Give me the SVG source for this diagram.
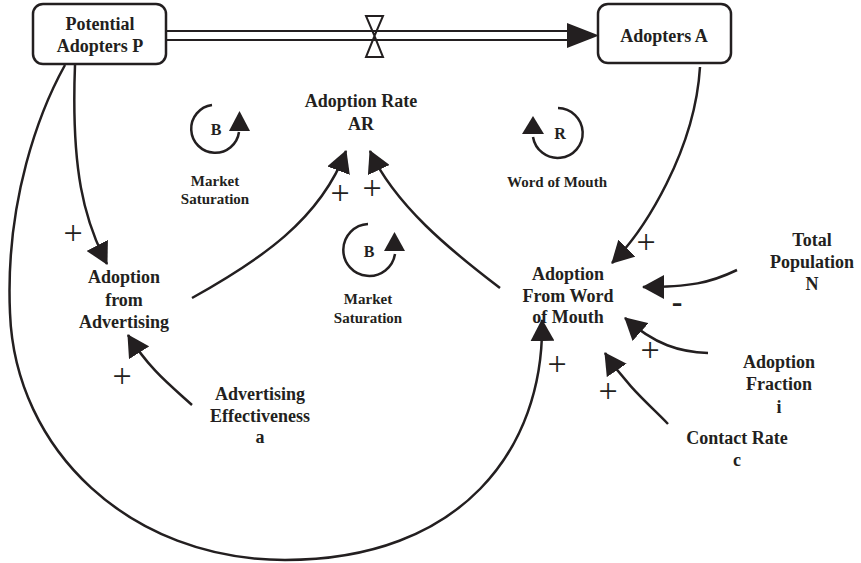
<svg xmlns="http://www.w3.org/2000/svg" width="861" height="563" viewBox="0 0 861 563">
  <defs>
    <style>
      .lbl { font-family: "Liberation Serif", "Times New Roman", serif; font-weight: bold; font-size: 18px; fill: #231f20; text-anchor: middle; }
      .small { font-size: 15px; }
      .loopTxt { font-size: 16px; }
      .sign { font-family: "Liberation Serif", "Times New Roman", serif; font-weight: normal; font-size: 34px; fill: #231f20; text-anchor: middle; }
      .minus { font-weight: bold; font-size: 32px; }
      .stock { fill: #ffffff; stroke: #231f20; stroke-width: 2.5; }
      .link { fill: none; stroke: #231f20; stroke-width: 2.5; }
      .pipe { fill: none; stroke: #231f20; stroke-width: 2; }
      .loop { fill: none; stroke: #231f20; stroke-width: 2.5; }
      .head { fill: #231f20; }
    </style>
    <marker id="arrow" markerUnits="userSpaceOnUse" viewBox="0 0 22 24" markerWidth="22" markerHeight="24" refX="21" refY="12" orient="auto">
      <path d="M0,0 L22,12 L0,24 Z" fill="#231f20"/>
    </marker>
  </defs>

  <!-- stocks -->
  <g id="potential-adopters">
    <rect class="stock" x="33" y="4" width="133" height="60" rx="10"/>
    <text class="lbl" x="100" y="30">Potential</text>
    <text class="lbl" x="100" y="52">Adopters P</text>
  </g>
  <g id="adopters">
    <rect class="stock" x="598" y="4" width="133" height="59" rx="10"/>
    <text class="lbl" x="664" y="42">Adopters A</text>
  </g>

  <!-- flow pipe with valve -->
  <g id="adoption-flow">
    <line class="pipe" x1="166" y1="31" x2="572" y2="31"/>
    <line class="pipe" x1="166" y1="40" x2="572" y2="40"/>
    <polygon class="head" points="567,23 567,48 599,35.5"/>
    <path class="pipe" d="M366,16 L383,16 L374.5,36 Z M366,57 L383,57 L374.5,36 Z"/>
  </g>

  <!-- auxiliaries -->
  <g id="adoption-rate">
    <text class="lbl" x="361" y="107">Adoption Rate</text>
    <text class="lbl" x="361" y="130">AR</text>
  </g>
  <g id="adoption-advertising">
    <text class="lbl" x="124" y="283">Adoption</text>
    <text class="lbl" x="124" y="306">from</text>
    <text class="lbl" x="124" y="328">Advertising</text>
  </g>
  <g id="adoption-wom">
    <text class="lbl" x="568" y="280">Adoption</text>
    <text class="lbl" x="568" y="302">From Word</text>
    <text class="lbl" x="568" y="323">of Mouth</text>
  </g>
  <g id="total-population">
    <text class="lbl" x="812" y="246">Total</text>
    <text class="lbl" x="812" y="268">Population</text>
    <text class="lbl" x="812" y="290">N</text>
  </g>
  <g id="adoption-fraction">
    <text class="lbl" x="779" y="368">Adoption</text>
    <text class="lbl" x="779" y="390">Fraction</text>
    <text class="lbl" x="779" y="413">i</text>
  </g>
  <g id="contact-rate">
    <text class="lbl" x="737" y="444">Contact Rate</text>
    <text class="lbl" x="737" y="466">c</text>
  </g>
  <g id="advertising-effectiveness">
    <text class="lbl" x="260" y="400">Advertising</text>
    <text class="lbl" x="260" y="422">Effectiveness</text>
    <text class="lbl" x="260" y="443">a</text>
  </g>

  <!-- feedback loop markers -->
  <g id="loop-saturation-1">
    <path class="loop" d="M212,105 A24,24 0 1 0 239,132"/>
    <polygon class="head" points="229,131 250,131 239.5,111"/>
    <text class="lbl loopTxt" x="216" y="135">B</text>
    <text class="lbl small" x="215" y="186">Market</text>
    <text class="lbl small" x="215" y="204">Saturation</text>
  </g>
  <g id="loop-saturation-2">
    <path class="loop" d="M368,224 A26,26 0 1 0 395,254"/>
    <polygon class="head" points="384,251 405,251 394.5,232"/>
    <text class="lbl loopTxt" x="369" y="257">B</text>
    <text class="lbl small" x="368" y="304">Market</text>
    <text class="lbl small" x="368" y="323">Saturation</text>
  </g>
  <g id="loop-word-of-mouth">
    <path class="loop" d="M558,108 A25,25 0 1 1 533,137"/>
    <polygon class="head" points="522,134 544,134 533,116"/>
    <text class="lbl loopTxt" x="560" y="139">R</text>
    <text class="lbl small" x="557" y="187">Word of Mouth</text>
  </g>

  <!-- causal links -->
  <g id="connectors">
    <path class="link" marker-end="url(#arrow)" d="M75,65 C71,170 84,220 107,264"/>
    <path class="link" marker-end="url(#arrow)" d="M65,65 C40,110 5,200 10,313 C15,450 130,560 285,560 C460,560 545,450 542,320"/>
    <path class="link" marker-end="url(#arrow)" d="M192,298 C260,260 320,220 346,151"/>
    <path class="link" marker-end="url(#arrow)" d="M500,288 C450,250 395,205 370,151"/>
    <path class="link" marker-end="url(#arrow)" d="M700,67 C695,150 645,230 612,263"/>
    <path class="link" marker-end="url(#arrow)" d="M737,270 C710,283 690,287 643,287"/>
    <path class="link" marker-end="url(#arrow)" d="M708,353 C680,352 655,345 625,318"/>
    <path class="link" marker-end="url(#arrow)" d="M668,424 C650,405 630,390 605,353"/>
    <path class="link" marker-end="url(#arrow)" d="M192,405 C170,385 150,370 128,335"/>
  </g>

  <!-- link polarities -->
  <g id="polarities">
    <text class="sign" x="73" y="244">+</text>
    <text class="sign" x="340" y="204">+</text>
    <text class="sign" x="372" y="199">+</text>
    <text class="sign" x="646" y="253">+</text>
    <text class="sign minus" x="677" y="312">-</text>
    <text class="sign" x="650" y="361">+</text>
    <text class="sign" x="608" y="402">+</text>
    <text class="sign" x="557" y="375">+</text>
    <text class="sign" x="122" y="387">+</text>
  </g>
</svg>
